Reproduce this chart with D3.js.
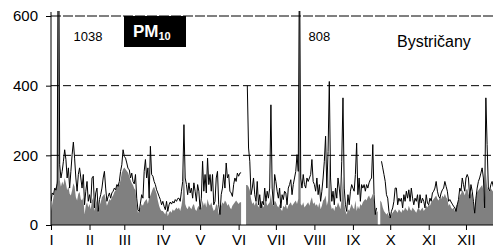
<!DOCTYPE html>
<html><head><meta charset="utf-8">
<script src="https://cdn.jsdelivr.net/npm/d3@7"></script>
<style>
html,body{margin:0;padding:0;background:#fff;}
svg{display:block;font-family:"Liberation Sans",Arial,sans-serif;}
</style></head>
<body><svg id="c" width="493" height="250"></svg>
<script>
// ---- data ----
const months = ["I","II","III","IV","V","VI","VII","VIII","IX","X","XI","XII"];
const monthStartDays = [0,31,59,90,120,151,181,212,243,273,304,334];
const yTicks = [0,200,400,600];
const stationName = "Bystričany";
const peakLabels = ["1038","808"];
const peakDays = [6,200];

// daily PM10 (black line), null = missing
const lineValues = [
68,92,87,106,100,120,1038,173,135,154,
183,216,188,135,164,106,154,202,238,192,
135,97,145,164,135,106,145,58,97,125,
68,87,63,135,140,49,92,106,39,73,
87,106,135,154,106,68,82,92,77,92,
97,106,101,116,111,125,154,173,216,197,
192,178,162,159,135,149,125,118,145,77,
44,39,63,87,77,154,188,135,164,77,
226,145,140,125,116,101,92,82,73,58,
68,54,44,68,39,58,66,60,68,63,
73,68,76,77,68,97,125,288,135,116,
87,121,92,106,77,121,97,68,116,97,
45,77,183,97,145,92,192,116,145,97,
145,58,68,135,154,58,30,87,106,145,
106,178,135,145,97,92,82,116,135,125,
149,140,149,150,null,null,null,null,400,221,
183,87,106,135,87,68,125,58,87,49,
68,58,106,68,97,77,106,345,106,58,
145,125,97,77,106,49,87,73,97,92,
58,106,116,130,87,116,135,154,202,154,
808,135,106,145,116,106,135,125,135,145,
188,125,116,97,135,87,116,68,97,135,
183,255,106,211,412,135,68,97,58,106,
77,135,106,68,183,365,106,58,39,87,
58,97,116,106,97,145,235,87,135,68,
116,106,116,97,116,106,121,130,135,231,
87,30,49,null,null,null,183,164,145,125,
87,77,39,20,39,49,68,106,106,58,
77,68,77,49,87,68,97,77,101,68,
106,77,58,77,68,87,49,87,63,77,
68,49,87,63,58,77,68,92,97,106,
125,97,82,77,92,101,106,125,111,97,
68,73,66,60,54,49,39,58,73,106,
97,135,116,97,135,145,135,77,116,97,
68,34,77,106,125,135,149,164,135,49,
365,231,106,97,116,125,110,95,120,100,
90,130,105,85,100
];

// daily values of the grey filled series
const areaValues = [
40,60,80,100,110,130,700,130,110,125,
115,135,120,100,110,90,85,100,120,110,
80,70,90,95,75,70,80,30,55,65,
50,60,45,70,80,40,60,75,35,55,
65,80,85,90,75,55,65,75,70,80,
85,95,100,110,120,115,130,150,160,165,
160,155,150,140,130,120,115,105,100,60,
35,40,50,60,55,65,70,75,60,80,
85,95,105,110,100,90,70,55,45,40,
40,35,30,45,25,35,40,35,45,40,
45,50,45,50,40,55,80,165,60,50,
45,55,50,45,55,60,45,40,50,55,
45,50,70,55,65,50,75,60,55,65,
50,40,45,60,55,30,45,55,65,60,
70,65,55,60,50,45,55,60,65,70,
65,60,65,65,null,null,null,115,115,110,
100,75,60,65,55,70,60,50,65,55,
60,50,65,70,55,60,65,90,60,55,
70,65,55,50,60,45,40,55,50,60,
45,55,60,65,55,60,65,70,60,75,
650,60,55,65,50,55,60,65,55,70,
80,60,65,55,60,50,65,45,55,70,
75,85,55,70,200,60,45,50,40,55,
50,65,55,45,80,140,60,40,30,45,
40,50,60,50,45,70,40,55,45,60,
55,65,70,75,70,80,85,75,80,90,
70,45,35,40,null,70,65,50,40,35,
30,35,25,20,30,35,40,45,40,35,
45,40,35,45,40,50,45,40,55,45,
40,50,45,40,35,45,50,40,45,50,
40,45,55,50,60,55,65,70,75,80,
85,75,70,80,75,85,80,90,80,75,
55,60,50,45,50,40,55,60,70,85,
90,100,95,85,100,105,90,80,95,85,
60,35,80,95,100,105,110,115,100,45,
150,110,100,95,105,100,95,90,100,95,
85,90,100,95,90
];

// ---- chart ----
const W = 493, H = 250;
const svg = d3.select("#c");
const x = d3.scaleLinear().domain([0,365]).range([51,504.5]);
const y = d3.scaleLinear().domain([0,600]).range([225,16]);

svg.append("defs").append("clipPath").attr("id","clip")
  .append("rect").attr("x",51).attr("y",11).attr("width",W-51).attr("height",225-11);

const plot = svg.append("g").attr("clip-path","url(#clip)");

const area = d3.area()
  .defined(d => d != null)
  .x((d,i) => x(i)).y0(y(0)).y1(d => y(d));
plot.append("path").datum(areaValues).attr("d", area).attr("fill","#808080");

// grid lines
svg.append("g").selectAll("line").data(yTicks.filter(v => v > 0)).join("line")
  .attr("x1",51).attr("x2",W).attr("y1",d=>y(d)).attr("y2",d=>y(d))
  .attr("stroke","#000").attr("stroke-width",1)
  .attr("stroke-dasharray", d => d === 600 ? "10,2" : "8,4");

const line = d3.line()
  .defined(d => d != null)
  .x((d,i) => x(i)).y(d => y(d));
plot.append("path").datum(lineValues).attr("d", line)
  .attr("fill","none").attr("stroke","#000").attr("stroke-width",1);

// axes
const xAxis = d3.axisBottom(x).tickValues(monthStartDays)
  .tickFormat((d,i) => months[i]).tickSize(5).tickSizeOuter(0).tickPadding(4);
const gx = svg.append("g").attr("transform",`translate(0,${y(0)})`).call(xAxis);
gx.select(".domain").remove();
gx.selectAll("text").attr("font-size",15).attr("font-family","Liberation Sans, Arial, sans-serif").attr("fill","#000");
svg.append("line").attr("x1",51).attr("x2",W).attr("y1",y(0)).attr("y2",y(0)).attr("stroke","#000");

const yAxis = d3.axisLeft(y).tickValues(yTicks).tickSize(5).tickSizeOuter(0).tickPadding(8);
const gy = svg.append("g").attr("transform","translate(51,0)").call(yAxis);
gy.select(".domain").remove();
gy.selectAll("text").attr("font-size",15).attr("font-family","Liberation Sans, Arial, sans-serif").attr("fill","#000");
svg.append("line").attr("x1",51).attr("x2",51).attr("y1",12).attr("y2",y(0)).attr("stroke","#000");

// annotations
svg.selectAll("text.peak").data(peakLabels).join("text").attr("class","peak")
  .attr("x",(d,i) => x(peakDays[i]) + (i===0 ? 15 : 9))
  .attr("y",41).attr("font-size",13).text(d => d);

const box = svg.append("g");
box.append("rect").attr("x",124).attr("y",16).attr("width",62).attr("height",31).attr("fill","#000");
const t = box.append("text").attr("x",133).attr("y",37).attr("fill","#fff")
  .attr("font-weight","bold").attr("font-size",17);
t.append("tspan").text("PM");
t.append("tspan").attr("font-size",11).attr("dy",3).text("10");

svg.append("text").attr("x",397).attr("y",47).attr("font-size",16).text(stationName);
</script></body></html>
